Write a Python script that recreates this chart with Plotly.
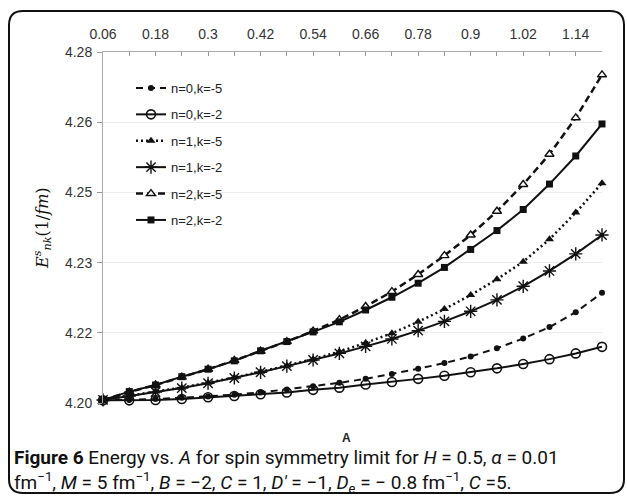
import plotly.graph_objects as go

# ---- data ----
A = [0.06, 0.12, 0.18, 0.24, 0.30, 0.36, 0.42, 0.48, 0.54, 0.60,
     0.66, 0.72, 0.78, 0.84, 0.90, 0.96, 1.02, 1.08, 1.14, 1.20]

n0_k5 = [4.2006, 4.2007, 4.2009, 4.2012, 4.2015, 4.2019, 4.2024, 4.2031, 4.2038, 4.2046,
         4.2055, 4.2066, 4.2078, 4.2091, 4.2106, 4.2125, 4.2147, 4.2173, 4.2207, 4.2251]
n0_k2 = [4.2006, 4.2006, 4.2007, 4.2009, 4.2013, 4.2016, 4.2020, 4.2024, 4.2030, 4.2035,
         4.2042, 4.2048, 4.2055, 4.2062, 4.2070, 4.2079, 4.2089, 4.2100, 4.2113, 4.2128]
n1_k5 = [4.2007, 4.2017, 4.2026, 4.2035, 4.2046, 4.2058, 4.2071, 4.2085, 4.2100, 4.2117,
         4.2137, 4.2159, 4.2185, 4.2214, 4.2246, 4.2282, 4.2322, 4.2373, 4.2434, 4.2501]
n1_k2 = [4.2007, 4.2016, 4.2025, 4.2034, 4.2045, 4.2057, 4.2070, 4.2084, 4.2098, 4.2113,
         4.2129, 4.2146, 4.2165, 4.2186, 4.2209, 4.2235, 4.2266, 4.2301, 4.2340, 4.2383]
n2_k5 = [4.2007, 4.2025, 4.2041, 4.2059, 4.2077, 4.2097, 4.2118, 4.2140, 4.2164, 4.2190,
         4.2220, 4.2254, 4.2293, 4.2336, 4.2383, 4.2437, 4.2498, 4.2567, 4.2650, 4.2748]
n2_k2 = [4.2007, 4.2026, 4.2041, 4.2060, 4.2077, 4.2096, 4.2119, 4.2140, 4.2162, 4.2185,
         4.2212, 4.2241, 4.2273, 4.2309, 4.2350, 4.2393, 4.2441, 4.2499, 4.2563, 4.2636]

series_names = ["n=0,k=-5", "n=0,k=-2", "n=1,k=-5", "n=1,k=-2", "n=2,k=-5", "n=2,k=-2"]

x_tickvals = [0.06, 0.18, 0.30, 0.42, 0.54, 0.66, 0.78, 0.90, 1.02, 1.14]
x_ticktext = ["0.06", "0.18", "0.3", "0.42", "0.54", "0.66", "0.78", "0.9", "1.02", "1.14"]
y_tickvals = [4.200, 4.216, 4.232, 4.248, 4.264, 4.280]
y_ticktext = ["4.20", "4.22", "4.23", "4.25", "4.26", "4.28"]

# ---- styles ----
BLK = "#111111"
styles = [
    dict(line=dict(color=BLK, width=2, dash="7px,5px"),
         marker=dict(symbol="circle", size=6, color=BLK)),
    dict(line=dict(color=BLK, width=2),
         marker=dict(symbol="circle-open", size=9, color=BLK, line=dict(width=1.6, color="#222"))),
    dict(line=dict(color=BLK, width=2.5, dash="2px,3px"),
         marker=dict(symbol="triangle-up", size=8, color=BLK)),
    dict(line=dict(color=BLK, width=2),
         marker=dict(symbol="asterisk-open", size=11, color=BLK, line=dict(width=1.4, color=BLK))),
    dict(line=dict(color=BLK, width=2.5, dash="7px,4px"),
         marker=dict(symbol="triangle-up", size=8, color="white", line=dict(width=1.4, color=BLK))),
    dict(line=dict(color=BLK, width=2),
         marker=dict(symbol="square", size=7, color=BLK)),
]

fig = go.Figure()
for name, ys, st in zip(series_names, [n0_k5, n0_k2, n1_k5, n1_k2, n2_k5, n2_k2], styles):
    fig.add_trace(go.Scatter(x=A, y=ys, name=name, mode="lines+markers",
                             line=st["line"], marker=st["marker"],
                             legendgroup=name, cliponaxis=False))

W, H = 627, 496
L, R, T, B = 103, 25, 52, 93
pw, ph = W - L - R, H - T - B

def px(x):
    return (x - L) / pw

def py(y):
    return (H - B - y) / ph

# rounded frame around chart and caption
x0, x1, y0, y1, r = 9, 624, 11, 493, 14
path = (f"M {px(x0+r)} {py(y0)} L {px(x1-r)} {py(y0)} "
        f"Q {px(x1)} {py(y0)} {px(x1)} {py(y0+r)} L {px(x1)} {py(y1-r)} "
        f"Q {px(x1)} {py(y1)} {px(x1-r)} {py(y1)} L {px(x0+r)} {py(y1)} "
        f"Q {px(x0)} {py(y1)} {px(x0)} {py(y1-r)} L {px(x0)} {py(y0+r)} "
        f"Q {px(x0)} {py(y0)} {px(x0+r)} {py(y0)} Z")
fig.add_shape(type="path", path=path, xref="paper", yref="paper",
              line=dict(color="#111111", width=2), fillcolor="rgba(0,0,0,0)", layer="above")

cap_font = dict(family="Liberation Sans Narrow, Roboto, Arial, sans-serif", size=19, color="#111111")
fig.add_annotation(xref="paper", yref="paper", x=px(12), y=py(471), xanchor="left", yanchor="middle",
                   showarrow=False, font=cap_font, align="left",
                   text="<b>Figure 6</b> Energy vs. <i>A</i> for spin symmetry limit for <i>H</i> = 0.5, <i>α</i> = 0.01<br>"
                        "fm<sup>−1</sup>, <i>M</i> = 5 fm<sup>−1</sup>, <i>B</i> = −2, <i>C</i> = 1, <i>D′</i> = −1, "
                        "<i>D<sub>e</sub></i> = − 0.8 fm<sup>−1</sup>, <i>C</i> =5.")
# x-axis title
fig.add_annotation(xref="paper", yref="paper", x=px(346), y=py(438), xanchor="center", yanchor="middle",
                   showarrow=False, text="<b>A</b>",
                   font=dict(family="Liberation Sans, Arial, sans-serif", size=12, color="#222"))
# y-axis title
fig.add_annotation(xref="paper", yref="paper", x=px(43), y=py(228), xanchor="center", yanchor="middle",
                   showarrow=False, textangle=-90,
                   text="<i>E</i><sup><i>s</i></sup><sub><i>nk</i></sub>(1/<i>fm</i>)",
                   font=dict(family="DejaVu Serif, Liberation Serif, serif", size=16, color="#111"))

tick_font = dict(family="Liberation Sans, Arial, sans-serif", size=14, color="#333333")
fig.update_layout(
    width=W, height=H,
    margin=dict(l=L, r=R, t=T, b=B),
    paper_bgcolor="white", plot_bgcolor="white",
    showlegend=True,
    legend=dict(x=px(131), y=py(73), xanchor="left", yanchor="top",
                bgcolor="rgba(0,0,0,0)", borderwidth=0, tracegroupgap=6.5,
                font=dict(family="Liberation Sans, Arial, sans-serif", size=13, color="#222")),
    xaxis=dict(side="top", range=[0.06, 1.20], tickvals=x_tickvals, ticktext=x_ticktext,
               ticks="inside", ticklen=4, tickcolor="#999", showline=True, linecolor="#aaaaaa",
               linewidth=1, showgrid=False, zeroline=False, tickfont=tick_font, ticklabelstandoff=6,
               minor=dict(dtick=0.06, tick0=0.06, ticks="inside", ticklen=4, tickcolor="#999", showgrid=False)),
    yaxis=dict(range=[4.20, 4.28], tickvals=y_tickvals, ticktext=y_ticktext,
               ticks="outside", ticklen=5, tickcolor="#999", showline=True, linecolor="#aaaaaa",
               linewidth=1, showgrid=True, gridcolor="#ececec", zeroline=False, tickfont=tick_font,
               ticklabelstandoff=2),
)

fig.write_html("out.html", config={"displayModeBar": False},
               post_script="document.body.style.margin='0px';document.body.style.overflow='hidden';")
